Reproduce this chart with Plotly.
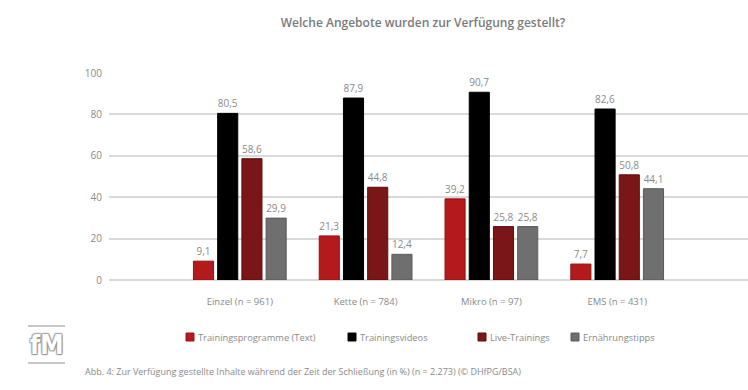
import plotly.graph_objects as go

# ---- data ----
categories = ["Einzel (n = 961)", "Kette (n = 784)", "Mikro (n = 97)", "EMS (n = 431)"]
series_names = ["Trainingsprogramme (Text)", "Trainingsvideos", "Live-Trainings", "Ernährungstipps"]
trainingsprogramme = [9.1, 21.3, 39.2, 7.7]
trainingsvideos = [80.5, 87.9, 90.7, 82.6]
live_trainings = [58.6, 44.8, 25.8, 50.8]
ernaehrungstipps = [29.9, 12.4, 25.8, 44.1]
y_ticks = [0, 20, 40, 60, 80, 100]

title_text = "Welche Angebote wurden zur Verfügung gestellt?"
caption_text = ("Abb. 4: Zur Verfügung gestellte Inhalte während der Zeit der Schließung "
                "(in %) (n = 2.273) (© DHfPG/BSA)")

# ---- styles ----
colors = ["#b31a1c", "#000000", "#7a1518", "#6f6f6f"]
edge_colors = ["#9a0f12", "#000000", "#5e0d10", "#5a5a5a"]
FONT = "Open Sans"
TXT = "#8a8a8a"

W, H = 748, 390
ML, MR, MT, MB = 109, 0, 73, 110
plot_h = H - MT - MB
plot_w = W - ML - MR
legend_left_px = [186, 348, 478, 571]   # left edge of each legend swatch
legend_y_px = 337


def px_to_paper_x(px):
    return (px - ML) / plot_w


def px_to_paper_y(py):
    return (H - MB - py) / plot_h


fig = go.Figure()
for name, vals, c, ec in zip(series_names,
                             [trainingsprogramme, trainingsvideos, live_trainings, ernaehrungstipps],
                             colors, edge_colors):
    fig.add_trace(go.Bar(
        x=categories, y=vals, name=name,
        marker=dict(color=c, line=dict(color=ec, width=1)),
        texttemplate="%{y:.1f}", textposition="outside",
        textfont=dict(family=FONT, size=10, color=TXT),
        cliponaxis=False,
    ))

fig.update_layout(
    width=W, height=H,
    margin=dict(l=ML, r=MR, t=MT, b=MB),
    paper_bgcolor="white", plot_bgcolor="white",
    separators=",.",
    barmode="group", bargap=0.23, bargroupgap=0.17,
    font=dict(family=FONT, size=10, color=TXT),
    title=dict(text=title_text, x=423 / W, xanchor="center", xref="container",
               y=1 - 23 / H, yanchor="middle", yref="container",
               font=dict(family=FONT, size=12, color="#7a7a7a", weight=600)),
    xaxis=dict(range=[-1.04, 4.04], showgrid=False, zeroline=False, showline=False,
               ticks="", ticklabelstandoff=14,
               tickfont=dict(family=FONT, size=9.5, color=TXT)),
    yaxis=dict(range=[0, 100], tickvals=y_ticks, showgrid=True, gridcolor="#d9d9d9",
               gridwidth=1.5, zeroline=True, zerolinecolor="#d9d9d9", zerolinewidth=1.5,
               showline=False, ticks="", ticklabelstandoff=6,
               tickfont=dict(family=FONT, size=10, color=TXT)),
    showlegend=False,
)

# legend (swatch + label per series)
for name, c, ec, lx in zip(series_names, colors, edge_colors, legend_left_px):
    fig.add_shape(type="rect", xref="paper", yref="paper",
                  x0=px_to_paper_x(lx), x1=px_to_paper_x(lx + 8),
                  y0=px_to_paper_y(legend_y_px - 4), y1=px_to_paper_y(legend_y_px + 4),
                  fillcolor=c, line=dict(color=ec, width=1))
    fig.add_annotation(text=name, xref="paper", yref="paper",
                       x=px_to_paper_x(lx + 10), y=px_to_paper_y(legend_y_px),
                       xanchor="left", yanchor="middle", showarrow=False,
                       font=dict(family=FONT, size=9.3, color=TXT))

# caption
fig.add_annotation(text=caption_text, xref="paper", yref="paper",
                   x=px_to_paper_x(83), y=px_to_paper_y(371), xanchor="left", yanchor="middle",
                   showarrow=False, font=dict(family=FONT, size=9, color=TXT))

# logo
fig.add_annotation(text="<b>fM</b>", xref="paper", yref="paper",
                   x=px_to_paper_x(46), y=px_to_paper_y(345), xanchor="center", yanchor="middle",
                   showarrow=False,
                   font=dict(family="DejaVu Sans Condensed", size=26, color="white",
                             shadow="1px 1px 1px #8c8c8c, -1px -1px 1px #a8a8a8, 1px -1px 1px #a8a8a8, -1px 1px 1px #a8a8a8"))
for ly in (326, 363):
    fig.add_shape(type="line", xref="paper", yref="paper",
                  x0=px_to_paper_x(28), x1=px_to_paper_x(65),
                  y0=px_to_paper_y(ly), y1=px_to_paper_y(ly),
                  line=dict(color="#c8c8c8", width=2))

fig.write_html("out.html", config={"displayModeBar": False},
               post_script="document.body.style.margin='0';")
